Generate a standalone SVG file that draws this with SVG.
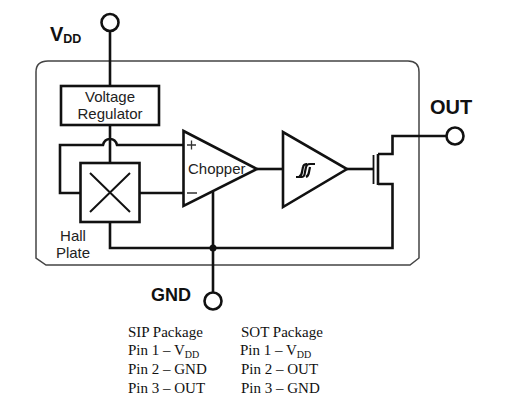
<svg xmlns="http://www.w3.org/2000/svg" width="505" height="401" viewBox="0 0 505 401">
<style>
.w{fill:none;stroke:#111;stroke-width:2.6}
.t{fill:#fff;stroke:#111;stroke-width:2.6;stroke-linejoin:miter}
.s{font-family:"Liberation Sans",Arial,sans-serif;font-size:15px;fill:#222}
.b{font-family:"Liberation Sans",Arial,sans-serif;font-size:20px;font-weight:bold;fill:#111}
.p{font-family:"Liberation Serif","Times New Roman",serif;font-size:15px;fill:#111}
</style>
<rect width="505" height="401" fill="#fff"/>
<g id="package"><path d="M48 61H408Q419 61 419 72V258L410 265H46L36 258V72Q36 61 48 61Z" fill="none" stroke="#444" stroke-width="1.5"/></g>
<g id="connectors">
<path class="w" d="M110 30V86"/>
<path class="w" d="M110 126V163"/>
<path class="w" d="M80 193H60V145H103Q104.500 139 110 139Q115.500 139 117 145H183"/>
<path class="w" d="M140 193H183"/>
<path class="w" d="M110 222V248H392.500V184H378"/>
<path class="w" d="M213 192V292"/>
<path class="w" d="M257 169H283"/>
<path class="w" d="M347 169H373"/>
<path class="w" d="M378 154H392.500V136H446"/>
<circle cx="213" cy="248" r="3.500" fill="#111"/>
</g>
<g id="vdd-pin"><circle class="t" cx="110" cy="22.500" r="8.500"/><text class="b" x="50" y="41">V<tspan font-size="12.500" dy="2">DD</tspan></text></g>
<g id="voltage-regulator"><rect class="t" x="61" y="86" width="98" height="39"/><text class="s" x="110" y="102" text-anchor="middle">Voltage</text><text class="s" x="110" y="119" text-anchor="middle">Regulator</text></g>
<g id="hall-plate"><rect class="t" x="80.500" y="163" width="59" height="59"/><path class="w" d="M90 173L130 212M130 173L90 212" style="stroke-width:2"/><text class="s" x="73" y="241" text-anchor="middle">Hall</text><text class="s" x="73" y="258" text-anchor="middle">Plate</text></g>
<g id="chopper"><path class="t" d="M183.500 131V206L257 169Z"/><path d="M187 145H196M191.500 140.500V149.500M187 193H197" fill="none" stroke="#333" stroke-width="1.300"/><text class="s" x="188" y="174">Chopper</text></g>
<g id="schmitt"><path class="t" d="M283 132V207L347 169Z"/><path d="M296 177H302Q304.500 177 305 172L306 167Q306.500 164 310 164H315M299 176.500Q301.500 176 302 172L303 167Q303.500 164 307 164M306 177Q308.500 176 309 172L310 167" fill="none" stroke="#111" stroke-width="2.200"/></g>
<g id="mosfet"><path d="M373.500 155V184" fill="none" stroke="#111" stroke-width="1.800"/><path d="M378 154V185" fill="none" stroke="#111" stroke-width="2.600"/></g>
<g id="out-pin"><circle class="t" cx="455" cy="136" r="8.500"/><text class="b" x="430" y="114">OUT</text></g>
<g id="gnd-pin"><circle class="t" cx="213" cy="301" r="8.500"/><text class="b" x="151" y="301" style="font-size:18px">GND</text></g>
<g id="pin-table">
<text class="p" x="128" y="337">SIP Package</text>
<text class="p" x="128" y="355">Pin 1 – V<tspan font-size="10" dy="3">DD</tspan></text>
<text class="p" x="128" y="374">Pin 2 – GND</text>
<text class="p" x="128" y="393">Pin 3 – OUT</text>
<text class="p" x="241" y="337">SOT Package</text>
<text class="p" x="240" y="355">Pin 1 – V<tspan font-size="10" dy="3">DD</tspan></text>
<text class="p" x="241" y="374">Pin 2 – OUT</text>
<text class="p" x="241" y="393">Pin 3 – GND</text>
</g>
</svg>
